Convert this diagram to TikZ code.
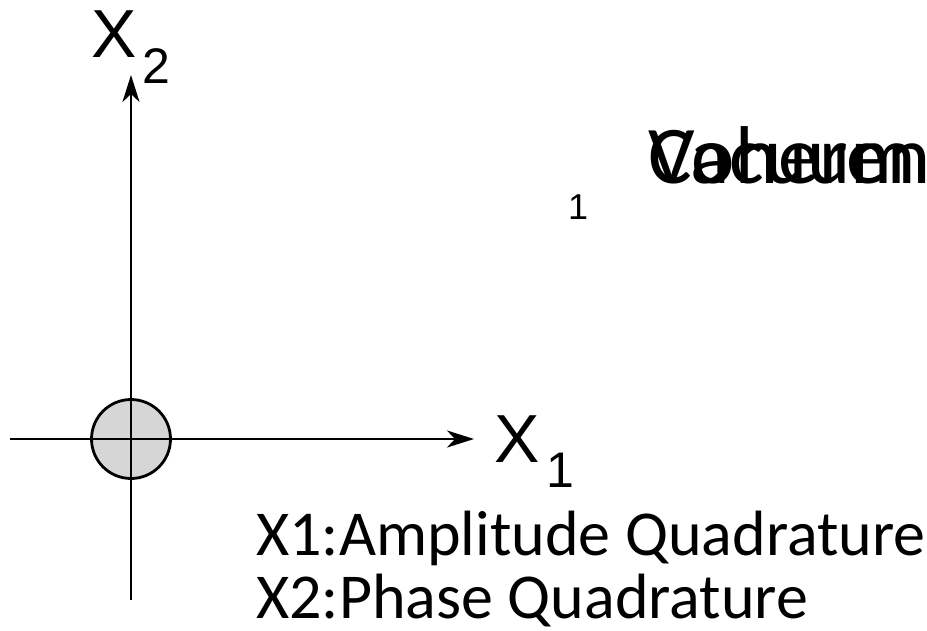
\documentclass[tikz,border=0pt]{standalone}
\usepackage{fontspec}
\setmainfont{Carlito}
\newfontfamily\helv{Liberation Sans}
\usetikzlibrary{arrows.meta}
\definecolor{vacgray}{HTML}{D6D6D6}
\tikzset{
  axis/.style={line width=2.8pt,-{Stealth[length=27pt,width=17pt,inset=8pt]}},
  lbl/.style={inner sep=0pt,anchor=base west},
  axlbl/.style={lbl,font=\helv\fontsize{68}{70}\selectfont},
  sublbl/.style={lbl,font=\helv\fontsize{50}{52}\selectfont},
  bigtxt/.style={lbl,font=\fontsize{82}{90}\selectfont},
  legtxt/.style={lbl,font=\fontsize{64}{70}\selectfont}
}
\begin{document}
\begin{tikzpicture}[x=1pt,y=-1pt]
\useasboundingbox (0,0) rectangle (927,630);
\clip (0,0) rectangle (927,630);
\node[circle,draw,line width=2.8pt,fill=vacgray,minimum size=79pt,inner sep=0pt] (vac) at (131,439) {};
\coordinate (xl) at (10,439);
\coordinate (xr) at (474,439);
\coordinate (yb) at (131,600);
\coordinate (yt) at (131,75);
\draw[axis] (xl) -- (xr);
\draw[axis] (yb) -- (yt);
\node[axlbl] (x2) at (91,57) {X};
\node[sublbl] (x2s) at (142,83) {2};
\node[axlbl] (x1) at (494,462) {X};
\node[sublbl] (x1s) at (546,487) {1};
\node[lbl,font=\helv\fontsize{36}{38}\selectfont] (one) at (568,219) {1};
\node[bigtxt] (vacw) at (648,183) {Vacuum};
\node[bigtxt] (cohw) at (648,183) {Coherent};
\node[legtxt] (leg1) at (256,555) {X1:Amplitude Quadrature};
\node[legtxt] (leg2) at (256,618) {X2:Phase Quadrature};
\end{tikzpicture}
\end{document}
